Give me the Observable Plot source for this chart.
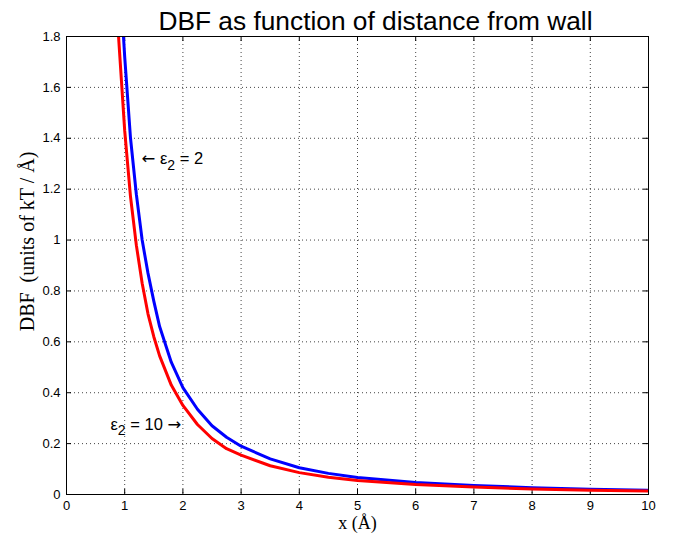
<!DOCTYPE html>
<html>
<head>
<meta charset="utf-8">
<script src="https://cdn.jsdelivr.net/npm/d3@7"></script>
<script src="https://cdn.jsdelivr.net/npm/@observablehq/plot@0.6"></script>
<style>
  html, body { margin: 0; padding: 0; background: #fff; }
</style>
</head>
<body>
<div id="chart"></div>
<script>
// Data
const xBlue = [0.9, 1.0, 1.1, 1.2, 1.3, 1.4, 1.5, 1.6, 1.8, 2.0, 2.25, 2.5, 2.75, 3, 3.5, 4, 4.5, 5, 6, 7, 8, 9, 10];
const yBlue = [2.10, 1.72, 1.40, 1.18, 1.00, 0.87, 0.76, 0.66, 0.52, 0.42, 0.335, 0.27, 0.225, 0.19, 0.14, 0.105, 0.083, 0.067, 0.047, 0.035, 0.027, 0.021, 0.017];
const xRed = [0.85, 0.9, 1.0, 1.1, 1.2, 1.3, 1.4, 1.5, 1.6, 1.8, 2.0, 2.25, 2.5, 2.75, 3, 3.5, 4, 4.5, 5, 6, 7, 8, 9, 10];
const yRed = [1.98, 1.78, 1.43, 1.17, 0.98, 0.83, 0.71, 0.62, 0.545, 0.43, 0.35, 0.275, 0.22, 0.18, 0.155, 0.113, 0.086, 0.068, 0.055, 0.039, 0.029, 0.022, 0.017, 0.014];

const xTicks = [0, 1, 2, 3, 4, 5, 6, 7, 8, 9, 10];
const yTicks = [0, 0.2, 0.4, 0.6, 0.8, 1, 1.2, 1.4, 1.6, 1.8];

const annoX = [1.29, 0.756];
const annoY = [1.32, 0.275];
const annoText = ["← ε_2 = 2", "ε_2 = 10 →"];

const titleText = "DBF as function of distance from wall";
const xLabel = "x (Å)";
const yLabel = "DBF  (units of kT / Å)";

const blue = xBlue.map((x, i) => ({x, y: yBlue[i]}));
const red = xRed.map((x, i) => ({x, y: yRed[i]}));
const annos = annoX.map((x, i) => ({x, y: annoY[i], t: annoText[i]}));

const W = 673, H = 539;
const mL = 66, mR = 25, mT = 36, mB = 45;
const pw = W - mL - mR, ph = H - mT - mB;
const tick = 5;

const sans = "'Liberation Sans', Arial, Helvetica, sans-serif";
const serif = "'Liberation Serif', 'Times New Roman', serif";

const chart = Plot.plot({
  width: W,
  height: H,
  marginLeft: mL,
  marginRight: mR,
  marginTop: mT,
  marginBottom: mB,
  style: {fontFamily: sans, fontSize: "13px", color: "#000", background: "#fff"},
  x: {domain: [0, 10]},
  y: {domain: [0, 1.8]},
  marks: [
    // dotted grid
    Plot.ruleX(xTicks.slice(1, -1), {stroke: "#444", strokeWidth: 1, strokeDasharray: "1,3"}),
    Plot.ruleY(yTicks.slice(1, -1), {stroke: "#444", strokeWidth: 1, strokeDasharray: "1,3"}),
    // inward ticks on all four sides
    Plot.ruleX(xTicks, {stroke: "#000", insetTop: ph - tick}),
    Plot.ruleX(xTicks, {stroke: "#000", insetBottom: ph - tick}),
    Plot.ruleY(yTicks, {stroke: "#000", insetRight: pw - tick}),
    Plot.ruleY(yTicks, {stroke: "#000", insetLeft: pw - tick}),
    // curves
    Plot.line(blue, {x: "x", y: "y", stroke: "#0000ff", strokeWidth: 3, clip: true}),
    Plot.line(red, {x: "x", y: "y", stroke: "#ff0000", strokeWidth: 3, clip: true}),
    Plot.frame({stroke: "#000", strokeWidth: 1}),
    Plot.axisX(xTicks, {tickSize: 0, tickPadding: 6, label: null, fontSize: 13, tickFormat: d => String(d)}),
    Plot.axisY(yTicks, {tickSize: 0, tickPadding: 6, label: null, fontSize: 13, tickFormat: d => String(+d.toFixed(1))}),
    // annotations
    Plot.text(annos, {x: "x", y: "y", text: "t", textAnchor: "start", fontSize: 16.5, fill: "#000"}),
    // title and axis labels
    Plot.text([titleText], {frameAnchor: "top", dx: 18, dy: -25, fontSize: 26.3, fill: "#000"}),
    Plot.text([xLabel], {frameAnchor: "bottom", dy: 34, fontSize: 18, fontFamily: serif, fill: "#000"}),
    Plot.text([yLabel], {frameAnchor: "left", textAnchor: "middle", dx: -39, dy: -24, rotate: -90, fontSize: 20, fontFamily: serif, fill: "#000"})
  ]
});

// turn "ε_2" into a subscript, and draw the arrows with a font whose arrows are wider
d3.select(chart).selectAll("text").each(function() {
  const txt = this.textContent;
  if (!txt.includes("_2")) return;
  const [pre, post] = txt.split("_2");
  const el = d3.select(this);
  el.text(null);
  const addPart = (s, firstDy) => {
    let first = true;
    s.split(/([←→])/).forEach(p => {
      if (!p) return;
      const t = el.append("tspan").text(p);
      if (p === "←" || p === "→") t.attr("font-family", "'DejaVu Sans', sans-serif");
      if (first && firstDy) t.attr("dy", firstDy);
      first = false;
    });
  };
  addPart(pre, null);
  el.append("tspan").attr("dy", "0.4em").attr("font-size", "0.85em").text("2");
  addPart(post, "-0.34em");
});

document.getElementById("chart").appendChild(chart);
</script>
</body>
</html>
